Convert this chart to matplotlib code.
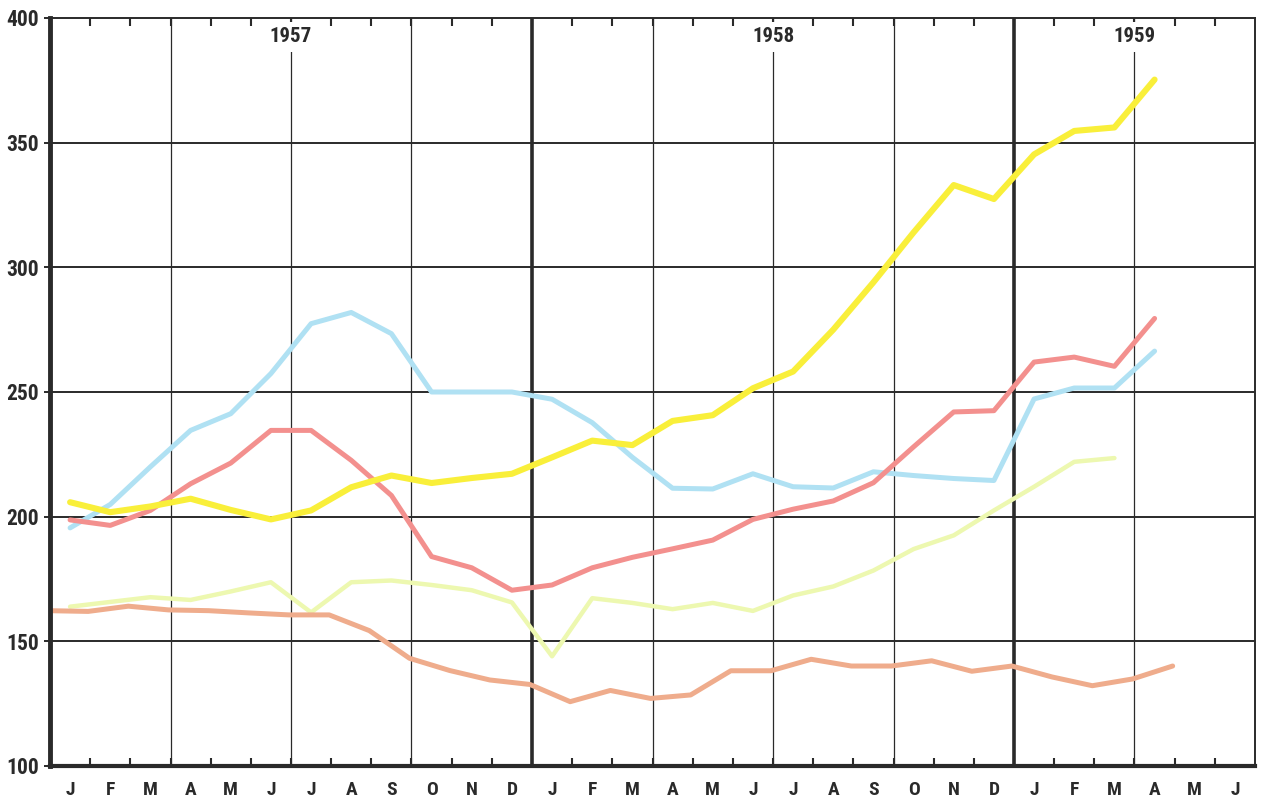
import numpy as np
import matplotlib
matplotlib.use('Agg')
import matplotlib.pyplot as plt
from matplotlib.ticker import FixedLocator

# month letters along the bottom, Jan 1957 .. Jun 1959
months = list('JFMAMJJASOND') * 2 + list('JFMAMJ')
years = ['1957', '1958', '1959']
year_month = [6, 18, 27]          # month index where the year label sits (line to its left)
year_breaks = [12, 24]           # January of 1958 and 1959

# series, one value per month starting Jan 1957
yellow = [205.8, 201.8, 204.1, 207.2, 202.7, 198.9, 202.5, 211.8, 216.5, 213.5,
          215.5, 217.2, 223.8, 230.5, 228.7, 238.4, 240.7, 251.5, 258.2, 275.0,
          294.0, 314.0, 333.0, 327.4, 345.3, 354.7, 356.1, 375.3]
red = [198.7, 196.5, 202.5, 213.2, 221.5, 234.6, 234.6, 222.6, 208.5, 184.0,
       179.5, 170.5, 172.6, 179.5, 183.7, 187.1, 190.6, 198.9, 203.0, 206.3,
       213.6, 228.0, 242.0, 242.5, 262.0, 264.0, 260.3, 279.5]
blue = [195.5, 204.9, 220.0, 234.6, 241.3, 257.4, 277.4, 281.9, 273.4, 250.0,
        250.0, 250.0, 247.1, 237.7, 223.8, 211.4, 211.1, 217.2, 212.0, 211.5,
        218.0, 216.5, 215.3, 214.5, 247.2, 251.6, 251.6, 266.4]
green = [163.9, 165.8, 167.7, 166.6, 170.0, 173.7, 161.6, 173.7, 174.4, 172.6,
         170.5, 165.6, 144.0, 167.3, 165.4, 162.9, 165.4, 162.2, 168.4, 172.0,
         178.4, 187.0, 192.5, 202.5, 212.0, 222.0, 223.5]
# this one is plotted at month ends, starting Dec 1956
orange = [162.3, 162.0, 164.1, 162.6, 162.3, 161.4, 160.6, 160.6, 154.3, 143.2,
          138.3, 134.5, 132.7, 125.8, 130.3, 127.1, 128.5, 138.2, 138.2, 142.8,
          140.1, 140.1, 142.2, 138.0, 140.1, 135.7, 132.2, 134.9, 140.1]

font = ['Roboto Condensed', 'Roboto', 'DejaVu Sans']
ink = '#2a2a2a'

fig = plt.figure(figsize=(12.62, 8), dpi=100)
ax = fig.add_axes([50 / 1262, 34 / 800, 1205 / 1262, 748 / 800])

# grid
for y in range(150, 400, 50):
    ax.axhline(y, color=ink, lw=1.4, zorder=1)
for q in range(3, 30, 3):
    thick = q in year_breaks
    ax.axvline(q - 0.5, color=ink, lw=2.6 if thick else 0.9, zorder=1)

# lines
ax.plot(np.arange(len(green)), green, color='#edf8b0', lw=3.2, solid_capstyle='round', zorder=2)
ax.plot(np.arange(len(orange)) - 0.55, orange, color='#efac8c', lw=3.6, solid_capstyle='round', zorder=2)
ax.plot(np.arange(len(blue)), blue, color='#b0e1f3', lw=3.6, solid_capstyle='round', zorder=2)
ax.plot(np.arange(len(red)), red, color='#f3908e', lw=3.6, solid_capstyle='round', zorder=2)
ax.plot(np.arange(len(yellow)), yellow, color='#f9ef3a', lw=4.4, solid_capstyle='round', zorder=2)

# year labels
for lab, m in zip(years, year_month):
    ax.text(m - 0.5, 0.975, lab, transform=ax.get_xaxis_transform(), ha='center', va='center',
            fontsize=15, fontweight='bold', family=font, color=ink, zorder=3,
            bbox=dict(facecolor='white', edgecolor='none', pad=4))

ax.set_xlim(-0.5, 29.5)
ax.set_ylim(100, 400)

ax.set_xticks(range(len(months)))
ax.set_xticklabels(months, fontsize=14, fontweight='bold', family=font, color=ink)
ax.xaxis.set_minor_locator(FixedLocator(np.arange(0.5, 29, 1)))
ax.tick_params(axis='x', which='major', length=0, pad=11)
ax.tick_params(axis='x', which='minor', direction='in', length=6, width=1.5,
               top=True, bottom=True, color=ink)

ax.set_yticks(range(100, 401, 50))
ax.set_yticklabels([str(v) for v in range(100, 401, 50)], fontsize=15.5, fontweight='bold',
                   family=font, color=ink)
ax.tick_params(axis='y', length=4, width=1.4, color=ink, pad=4)

ax.spines['left'].set_linewidth(3.5)
ax.spines['bottom'].set_linewidth(3)
ax.spines['top'].set_linewidth(1.4)
ax.spines['right'].set_linewidth(1.4)
for s in ax.spines.values():
    s.set_color(ink)

fig.savefig('out.png', dpi=100)
